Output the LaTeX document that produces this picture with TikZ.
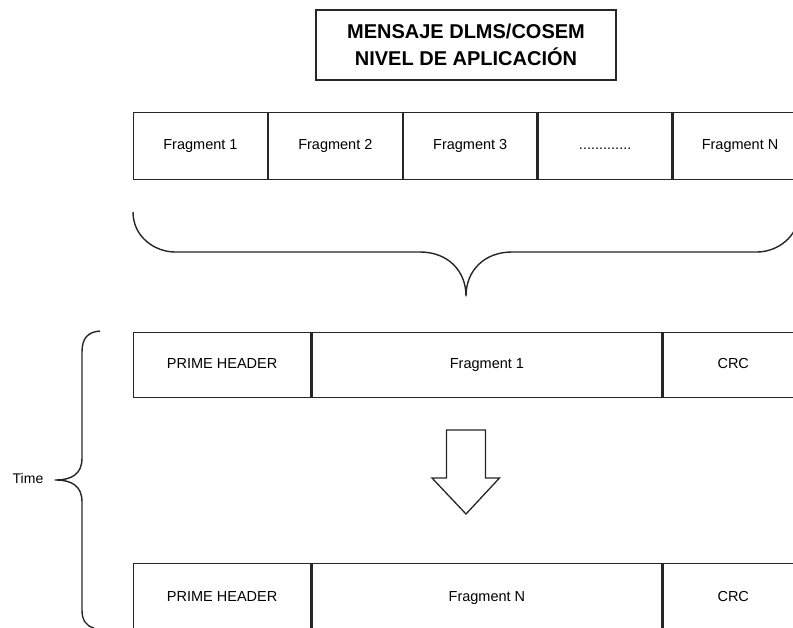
\documentclass[tikz,border=0pt]{standalone}
\usepackage{fontspec}
\setmainfont{Liberation Sans}
\begin{document}
\begin{tikzpicture}[x=1pt,y=-1pt,
  line width=1.3pt, draw=black!85,
  cell/.style={draw, rectangle, anchor=north west, inner sep=0pt,
    text height=10.5pt, text depth=3pt,
    font=\fontsize{14.5}{17}\selectfont},
  frag/.style={cell, minimum width=133.6pt, minimum height=67pt},
  brace/.style={draw, line width=1.4pt, line join=round},
  title/.style={draw, rectangle, inner sep=0pt, minimum width=300pt, minimum height=70pt,
    align=center, font=\fontsize{20}{27}\selectfont\bfseries}]
\useasboundingbox (0,0) rectangle (793,628);
\clip (0,0) rectangle (793,628);

% heading
\node[title] (head) at (466,45) {MENSAJE DLMS/COSEM\\NIVEL DE APLICACIÓN};

% application message split into fragments
\node[frag] (f1) at (133,112) {Fragment 1};
\node[frag] (f2) at (f1.north east) {Fragment 2};
\node[frag] (f3) at (f2.north east) {Fragment 3};
\node[frag] (fd) at (f3.north east) {.............};
\node[frag] (fn) at (fd.north east) {Fragment N};

% brace gathering the fragments
\draw[brace] (133,212)
  .. controls +(0,25) and +(-20,0) .. (175,252) coordinate (bl)
  -- (420,252)
  .. controls +(28,0) and +(0,-25) .. (466,296) coordinate (btip)
  .. controls +(0,-25) and +(-28,0) .. (512,252)
  -- (757,252)
  .. controls +(20,0) and +(0,25) .. (799,212);

% first PRIME frame
\node[cell, minimum width=177pt, minimum height=65pt] (h1) at (133,332) {PRIME HEADER};
\node[cell, minimum width=350pt, minimum height=65pt] (p1) at (h1.north east) {Fragment 1};
\node[cell, minimum width=140pt, minimum height=65pt] (c1) at (p1.north east) {CRC};

% last PRIME frame
\node[cell, minimum width=177pt, minimum height=68pt] (h2) at (133,563) {PRIME HEADER};
\node[cell, minimum width=350pt, minimum height=68pt] (p2) at (h2.north east) {Fragment N};
\node[cell, minimum width=140pt, minimum height=68pt] (c2) at (p2.north east) {CRC};

% block arrow between the frames
\coordinate (ar) at (466,430);
\draw[line width=1.3pt, line join=miter]
  (ar) ++(-19.5,0) -- ++(39,0) -- ++(0,48) -- ++(14,0) -- (466,514)
  -- (432,478) -- ++(14.5,0) -- cycle;

% time brace
\draw[brace] (100,331)
  .. controls (88,332) and (82,338) .. (82,352)
  -- (82,458)
  .. controls (82,474) and (72,480) .. (55,480)
  .. controls (72,480) and (82,486) .. (82,502)
  -- (82,610)
  .. controls (82,620) and (86,626) .. (94,628);
\node[font=\fontsize{14}{17}\selectfont] (time) at (28,478) {Time};
\end{tikzpicture}
\end{document}
